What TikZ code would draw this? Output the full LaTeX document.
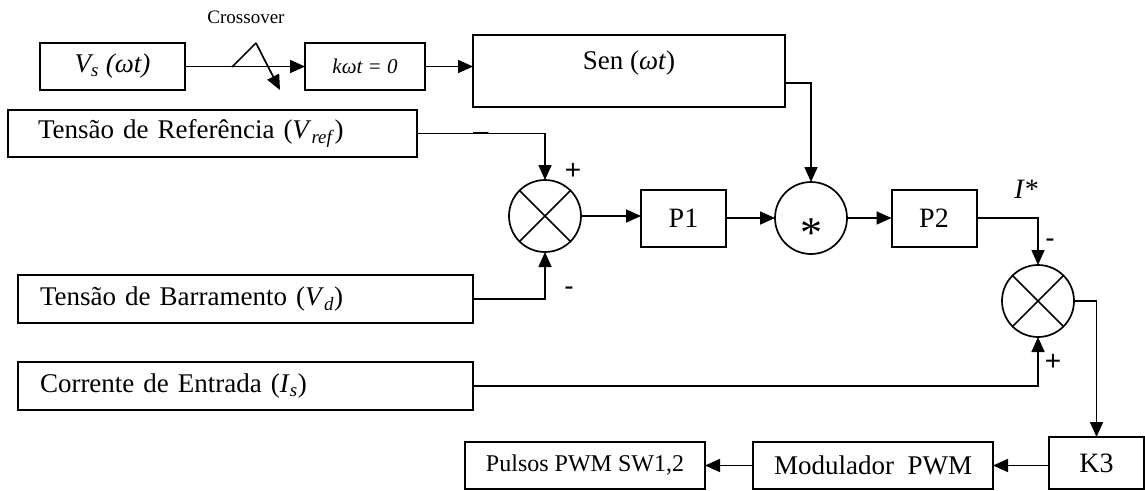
\documentclass[tikz,border=0pt]{standalone}
\usepackage{fontspec}
\setmainfont{Liberation Serif}
\setsansfont{Liberation Sans}
\usetikzlibrary{positioning, arrows.meta, calc}
\newcommand{\fsz}[1]{\fontsize{#1}{#1}\selectfont}

\begin{document}
\begin{tikzpicture}[x=1pt, y=-1pt, >={Triangle[length=15pt, width=13pt]}, line width=1.7pt,
    blk/.style={draw, line width=2pt, inner sep=0pt, outer sep=0pt, font=\fsz{27}},
    sumnode/.style={draw, circle, line width=1.7pt, minimum size=72pt, inner sep=0pt, outer sep=0pt},
    sign/.style={font=\sffamily\fsz{28}, inner sep=0pt}]

    \useasboundingbox (0,0) rectangle (1145,490);

    % Top row: synchronism
    \node[blk, minimum width=145pt, minimum height=47pt] (vs) at (112.5,66.5) {\textit{V\textsubscript{s} (ωt)}};
    \node[blk, minimum width=120pt, minimum height=47pt, font=\fsz{21}] (kwt) at (365,66.5) {\textit{kωt = 0}};
    \node[blk, minimum width=312pt, minimum height=72pt, text depth=22pt] (sen) at (629,71) {Sen (\textit{ωt})};
    \node[font=\fsz{19}] (xlabel) at (246,17) {Crossover};
    \coordinate (xa) at (232,67);
    \coordinate (xb) at (256,43);
    \coordinate (xc) at (280,90);

    % Measured inputs
    \node[blk, minimum height=47pt, text width=349pt, inner xsep=30pt, align=left] (vref) at (212.5,133.5) {Tensão de Referência (\textit{V}\textsubscript{\textit{ref}})};
    \node[blk, minimum height=48pt, text width=411pt, inner xsep=22pt, align=left] (vd) at (245.5,299) {Tensão de Barramento (\textit{V}\textsubscript{\textit{d}})};
    \node[blk, minimum height=48pt, text width=411pt, inner xsep=22pt, align=left] (is) at (245.5,386) {Corrente de Entrada (\textit{I}\textsubscript{\textit{s}})};

    % Control chain
    \node[sumnode] (s1) at (545,216) {};
    \node[blk, minimum width=85pt, minimum height=57pt, font=\fsz{28}] (p1) at (683.5,218) {P1};
    \node[sumnode, font=\fsz{44}] (mult) at (811,218) {\raisebox{-14pt}[30pt][0pt]{*}};
    \node[blk, minimum width=85pt, minimum height=57pt, font=\fsz{28}] (p2) at (934,218) {P2};
    \node[sumnode] (s2) at (1038,301) {};
    \node[blk, minimum width=95pt, minimum height=52pt, font=\fsz{28}] (k3) at (1096.5,463) {K3};
    \node[blk, minimum width=240pt, minimum height=47pt] (mod) at (873,465.5) {Modulador\ \ PWM};
    \node[blk, minimum width=240pt, minimum height=47pt, font=\fsz{24}] (pwm) at (585,465.5) {Pulsos PWM SW1,2};

    % Crosses inside the summing junctions
    \foreach \s in {s1,s2} {
        \draw[line width=1.5pt] (\s.north west) -- (\s.south east) (\s.north east) -- (\s.south west);
    }

    % Signs and labels
    \node[sign] (s1plus) at (573,171) {+};
    \node[sign] (s1minus) at (569,291) {-};
    \node[sign] (vrefdash) at (481,136.5) {–};
    \node[sign] (s2minus) at (1050,243) {-};
    \node[sign] (s2plus) at (1053,362) {+};
    \node[font=\fsz{28}] (iref) at (1026,189) {\textit{I*}};

    % Connectors
    \draw[->] (vs.east) -- (kwt.west);
    \draw (xa) -- (xb);
    \draw[->] (xb) -- (xc);
    \draw[->] (kwt.east) -- (kwt.east -| sen.west);
    \draw[->] ([yshift=-12pt]sen.east) -| (mult.north);
    \draw[->] (vref.east) -| (s1.north);
    \draw[->] (vd.east) -| (s1.south);
    \draw[->] (s1.east) -- (s1.east -| p1.west);
    \draw[->] (p1.east) -- (mult.west);
    \draw[->] (mult.east) -- (p2.west);
    \draw[->] (p2.east) -| (s2.north);
    \draw[->] (is.east) -| (s2.south);
    \draw[->] (s2.east) -| (k3.north);
    \draw[->] (k3.west |- mod.east) -- (mod.east);
    \draw[->] (mod.west) -- (pwm.east);
\end{tikzpicture}
\end{document}
